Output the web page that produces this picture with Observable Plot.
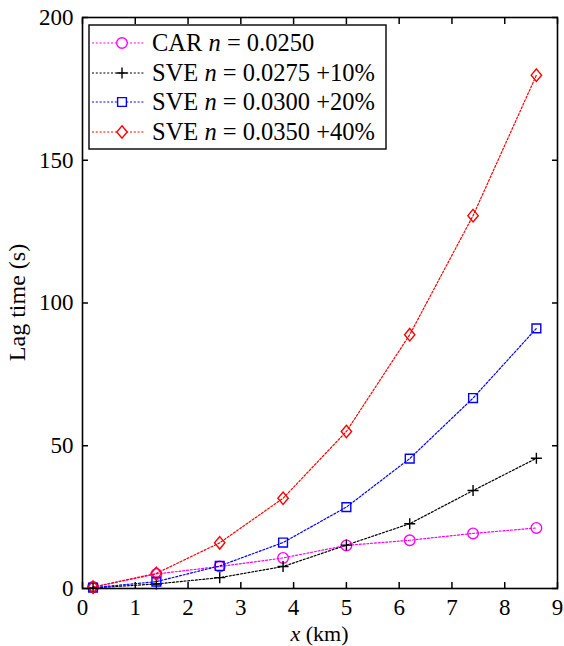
<!DOCTYPE html>
<html><head><meta charset="utf-8">
<script src="https://cdn.jsdelivr.net/npm/d3@7"></script>
<script src="https://cdn.jsdelivr.net/npm/@observablehq/plot@0.6"></script>
<style>body{margin:0;background:#fff}#chart{width:564px;height:646px}</style>
</head><body><div id="chart"></div>
<script>
// ---- data ----
const xKm = [0.2, 1.4, 2.6, 3.8, 5.0, 6.2, 7.4, 8.6];
const carN0250 = [0.5, 5.1, 7.7, 10.7, 15.1, 16.9, 19.3, 21.2];
const sveN0275 = [0.2, 1.6, 3.8, 7.7, 15.2, 22.7, 34.3, 45.6];
const sveN0300 = [0.3, 2.4, 7.9, 16.1, 28.5, 45.5, 66.7, 91.1];
const sveN0350 = [0.5, 5.3, 16.0, 31.6, 55.0, 88.9, 130.6, 179.8];
const legendPrefix = ["CAR ", "SVE ", "SVE ", "SVE "];
const legendN = ["0.0250", "0.0275", "0.0300", "0.0350"];
const legendSuffix = ["", " +10%", " +20%", " +40%"];
const xTicks = [0, 1, 2, 3, 4, 5, 6, 7, 8, 9];
const yTicks = [0, 50, 100, 150, 200];
const xLabel = "(km)";
const yLabel = "Lag time (s)";

// ---- symbols ----
const rOf = size => Math.sqrt(size / Math.PI);
const symPlus = {draw(ctx, size) { const r = rOf(size); ctx.moveTo(-r, 0); ctx.lineTo(r, 0); ctx.moveTo(0, -r); ctx.lineTo(0, r); }};
const symSquare = {draw(ctx, size) { const r = rOf(size); ctx.moveTo(-r, -r); ctx.lineTo(r, -r); ctx.lineTo(r, r); ctx.lineTo(-r, r); ctx.closePath(); }};
const symDiamond = {draw(ctx, size) { const r = rOf(size); ctx.moveTo(0, -1.2 * r); ctx.lineTo(r, 0); ctx.lineTo(0, 1.2 * r); ctx.lineTo(-r, 0); ctx.closePath(); }};
const symCircle = d3.symbolCircle;

const series = [
  {values: carN0250, color: "#ff00ff", symbol: symCircle, r: 5.3},
  {values: sveN0275, color: "#000000", symbol: symPlus, r: 5.5},
  {values: sveN0300, color: "#0000ff", symbol: symSquare, r: 4.4},
  {values: sveN0350, color: "#ff0000", symbol: symDiamond, r: 5.2}
];
const tables = series.map(s => xKm.map((x, i) => ({x, y: s.values[i]})));

const fontFamily = '"Liberation Serif", "Times New Roman", serif';
const W = 564, H = 646, mL = 82, mR = 7, mT = 17, mB = 58;
const dash = "2,1.8";

const marks = [];
series.forEach((s, k) => {
  marks.push(Plot.line(tables[k], {x: "x", y: "y", stroke: s.color, strokeWidth: 1.2, strokeDasharray: dash}));
});
series.forEach((s, k) => {
  marks.push(Plot.dot(tables[k], {x: "x", y: "y", stroke: s.color, fill: "none", symbol: s.symbol, r: s.r, strokeWidth: 1.4}));
});

const plot = Plot.plot({
  width: W, height: H,
  marginLeft: mL, marginRight: mR, marginTop: mT, marginBottom: mB,
  style: {fontFamily, fontSize: "23px", color: "black", background: "white"},
  x: {domain: [0, 9]},
  y: {domain: [0, 200]},
  marks: [
    Plot.axisX({ticks: xTicks, tickSize: -6, tickPadding: 16, label: null, strokeWidth: 1.5}),
    Plot.axisX({anchor: "top", ticks: xTicks, tickSize: -6, tickFormat: () => "", label: null, strokeWidth: 1.5}),
    Plot.axisY({ticks: yTicks, tickSize: -6, tickPadding: 15, label: null, strokeWidth: 1.5}),
    Plot.axisY({anchor: "right", ticks: yTicks, tickSize: -6, tickFormat: () => "", label: null, strokeWidth: 1.5}),
    ...marks,
    Plot.frame({stroke: "black", strokeWidth: 1.6})
  ]
});
document.getElementById("chart").appendChild(plot);

// ---- axis titles & legend (overlay) ----
const svg = d3.select(plot);
const xt = svg.append("text").attr("x", (mL + W - mR) / 2).attr("y", 640.5)
  .attr("text-anchor", "middle").style("font-size", "22px").style("font-family", fontFamily);
xt.append("tspan").style("font-style", "italic").text("x");
xt.append("tspan").text(" " + xLabel);
svg.append("text").attr("transform", `translate(25,${(mT + H - mB) / 2}) rotate(-90)`)
  .attr("text-anchor", "middle").style("font-size", "24px").style("font-family", fontFamily).text(yLabel);

const lg = svg.append("g");
lg.append("rect").attr("x", 89).attr("y", 25).attr("width", 297).attr("height", 124)
  .attr("fill", "white").attr("stroke", "black").attr("stroke-width", 1.4);
const rowY = [43, 73, 102, 132];
series.forEach((s, k) => {
  const y = rowY[k];
  lg.append("line").attr("x1", 92).attr("x2", 145).attr("y1", y).attr("y2", y)
    .attr("stroke", s.color).attr("stroke-width", 1.2).attr("stroke-dasharray", dash);
  const p = d3.path(); s.symbol.draw(p, Math.PI * s.r * s.r);
  lg.append("path").attr("d", p.toString()).attr("transform", `translate(122,${y})`)
    .attr("fill", "white").attr("stroke", s.color).attr("stroke-width", 1.4);
  const t = lg.append("text").attr("x", 152).attr("y", y + 8).attr("text-anchor", "start")
    .style("font-size", "24.5px").style("font-family", fontFamily);
  t.append("tspan").text(legendPrefix[k]);
  t.append("tspan").style("font-style", "italic").text("n");
  t.append("tspan").text(" = " + legendN[k] + legendSuffix[k]);
});
</script>
</body></html>
